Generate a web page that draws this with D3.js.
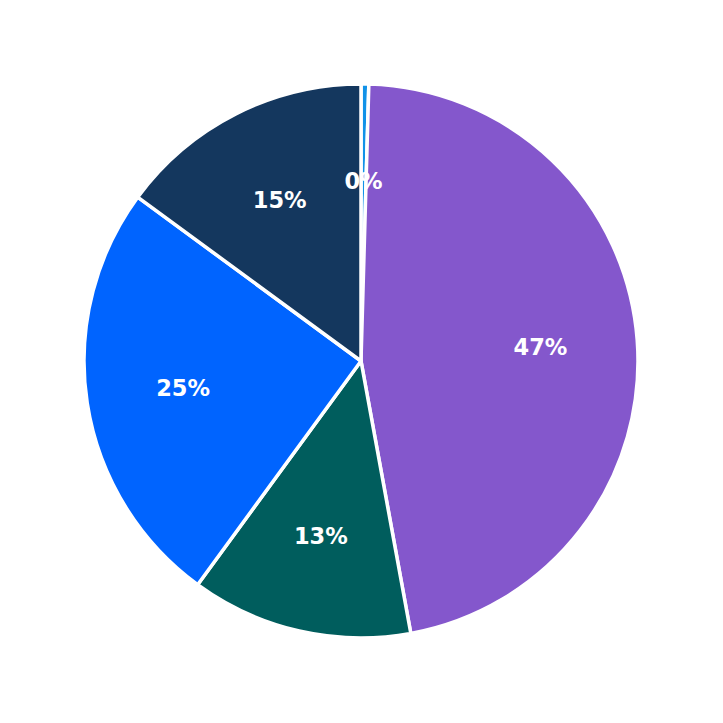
<!DOCTYPE html>
<html>
<head>
<meta charset="utf-8">
<script src="https://cdn.jsdelivr.net/npm/d3@7"></script>
<style>
  body { margin: 0; background: #fff; }
  .label { font-family: "DejaVu Sans", sans-serif; font-weight: bold; font-size: 22.5px; fill: #fff; }
</style>
</head>
<body>
<svg></svg>
<script>
var categories = ["A", "B", "C", "D", "E"];
var values = [0.45, 46.6, 12.9, 25.0, 14.9];
var colors = ["#1192e8", "#8457cc", "#005d5d", "#0064ff", "#14375e"];

var width = 723;
var height = 723;
var radius = 277;
var labelRadius = 180;

var svg = d3.select("svg")
  .attr("width", width)
  .attr("height", height);

var g = svg.append("g")
  .attr("transform", "translate(361,361)");

var pie = d3.pie().sort(null).value(function(d){ return d.value; });
var data = categories.map(function(c, i){ return {name: c, value: values[i], color: colors[i]}; });
var arcs = pie(data);
var total = d3.sum(values);

var arc = d3.arc().innerRadius(0).outerRadius(radius);
var labelArc = d3.arc().innerRadius(labelRadius).outerRadius(labelRadius);

//slices
g.selectAll("path")
  .data(arcs)
  .enter()
  .append("path")
  .attr("d", arc)
  .attr("fill", function(d){ return d.data.color; })
  .attr("stroke", "#fff")
  .attr("stroke-width", 3.5)
  .attr("stroke-linejoin", "round");

//percent labels
g.selectAll("text")
  .data(arcs)
  .enter()
  .append("text")
  .attr("class", "label")
  .attr("transform", function(d){ return "translate(" + labelArc.centroid(d) + ")"; })
  .attr("text-anchor", "middle")
  .attr("dy", "0.35em")
  .text(function(d){ return Math.round(d.data.value / total * 100) + "%"; });
</script>
</body>
</html>
